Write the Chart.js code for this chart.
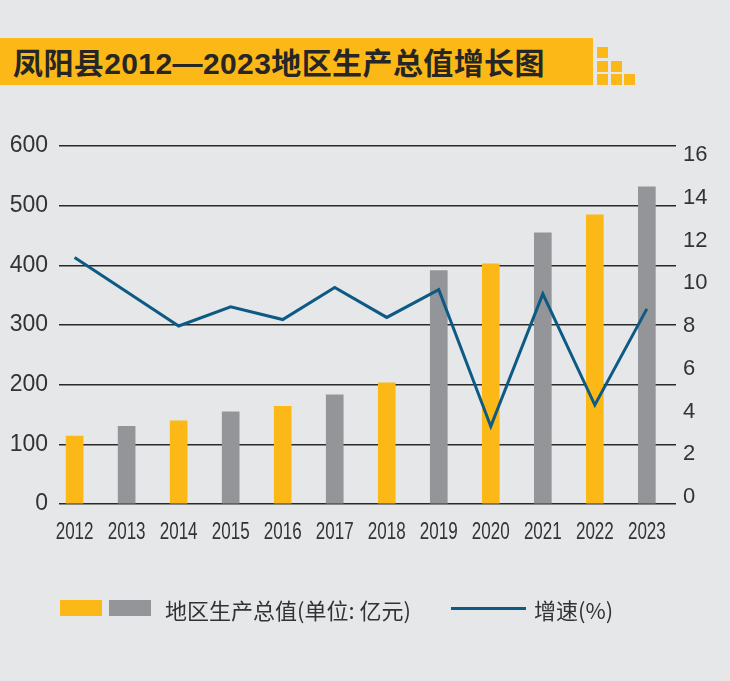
<!DOCTYPE html>
<html>
<head>
<meta charset="utf-8">
<script src="https://cdn.jsdelivr.net/npm/chart.js@4/dist/chart.umd.min.js"></script>
<style>
  html, body { margin: 0; padding: 0; background: #e6e7e9; }
  #wrap { position: relative; width: 730px; height: 681px; overflow: hidden; }
  #chart { position: absolute; left: 0; top: 0; }
  .band { position: absolute; left: 0; top: 38px; width: 593px; height: 47px; background: #fbb817; }
  .band span { position: absolute; left: 13px; top: 1px; line-height: 47px; font: 700 30px "Liberation Sans", "Noto Sans CJK SC", sans-serif; letter-spacing: 0.4px; color: #262626; white-space: nowrap; }
  .sq { position: absolute; width: 11px; height: 11px; background: #fbb817; }
  .legend { position: absolute; top: 597px; left: 0; font: 22px "Noto Sans CJK SC", sans-serif; color: #333; white-space: nowrap; }
  .legend div { position: absolute; }
</style>
</head>
<body>
<div id="wrap">
  <div class="band"><span>凤阳县2012—2023地区生产总值增长图</span></div>
  <div class="sq" style="left:597px;top:47px"></div>
  <div class="sq" style="left:597px;top:61px"></div>
  <div class="sq" style="left:611px;top:61px"></div>
  <div class="sq" style="left:597px;top:74px"></div>
  <div class="sq" style="left:611px;top:74px"></div>
  <div class="sq" style="left:624px;top:74px"></div>
  <canvas id="chart" width="730" height="681"></canvas>
  <div class="legend">
    <div style="left:60px;top:3px;width:42px;height:16px;background:#fbb817"></div>
    <div style="left:109px;top:3px;width:42px;height:16px;background:#939598"></div>
    <div style="left:165px;top:-4px">地区生产总值(单位: 亿元)</div>
    <div style="left:451px;top:10px;width:75px;height:3px;background:#0d5a85"></div>
    <div style="left:534px;top:-4px">增速(%)</div>
  </div>
</div>
<script>
// 数据
const years = ['2012', '2013', '2014', '2015', '2016', '2017', '2018', '2019', '2020', '2021', '2022', '2023'];
const gdp = [114, 130, 139.5, 154.6, 163.5, 183, 203, 391, 402.5, 454.5, 484.6, 531.5];
const growth = [11.2, 9.6, 8.0, 8.9, 8.3, 9.8, 8.4, 9.7, 3.3, 9.5, 4.3, 8.8];
const leftTicks = [0, 100, 200, 300, 400, 500, 600];
const rightTicks = [0, 2, 4, 6, 8, 10, 12, 14, 16];

const YELLOW = '#fbb817';
const GREY = '#939598';
const BLUE = '#0d5a85';

// 年份标签用窄体：横向压缩绘制
const narrowYears = {
  id: 'narrowYears',
  afterDraw(chart) {
    const ctx = chart.ctx;
    const xs = chart.scales.x;
    const y = chart.chartArea.bottom + 29;
    ctx.save();
    ctx.fillStyle = '#333';
    ctx.font = '23px "Liberation Sans", sans-serif';
    ctx.textAlign = 'center';
    ctx.textBaseline = 'middle';
    years.forEach((label, i) => {
      ctx.save();
      ctx.translate(xs.getPixelForValue(i), y);
      ctx.scale(0.74, 1);
      ctx.fillText(label, 0, 0);
      ctx.restore();
    });
    ctx.restore();
  }
};

new Chart(document.getElementById('chart'), {
  type: 'bar',
  data: {
    datasets: [
      {
        type: 'line',
        data: years.map((y, i) => ({ x: i, y: growth[i] })),
        yAxisID: 'y1',
        borderColor: BLUE,
        borderWidth: 3,
        pointRadius: 0,
        tension: 0,
        order: 0
      },
      {
        data: years.map((y, i) => ({ x: i, y: gdp[i] })),
        yAxisID: 'y',
        backgroundColor: years.map((y, i) => i % 2 === 0 ? YELLOW : GREY),
        barThickness: 17,
        order: 1
      }
    ]
  },
  options: {
    responsive: false,
    animation: false,
    layout: { padding: { top: 146, left: 0, right: 0, bottom: 0 } },
    plugins: { legend: { display: false }, tooltip: { enabled: false } },
    scales: {
      x: {
        type: 'linear',
        offset: false,
        min: -0.3,
        max: 11.56,
        grid: { display: false },
        border: { display: false },
        afterBuildTicks: s => { s.ticks = years.map((y, i) => ({ value: i })); },
        afterFit: s => { s.height = 177; },
        ticks: { display: false }
      },
      y: {
        position: 'left',
        min: 0,
        max: 600,
        afterBuildTicks: s => { s.ticks = leftTicks.map(v => ({ value: v })); },
        afterFit: s => { s.width = 59; },
        grid: { color: '#2a2a2a', lineWidth: 1.5, drawTicks: false },
        border: { display: false },
        ticks: {
          padding: 11,
          color: '#333',
          font: { family: '"Liberation Sans", sans-serif', size: 23 }
        }
      },
      y1: {
        position: 'right',
        min: -0.33,
        max: 16.42,
        afterBuildTicks: s => { s.ticks = rightTicks.map(v => ({ value: v })); },
        afterFit: s => { s.width = 54; },
        grid: { display: false, drawTicks: false },
        border: { display: false },
        ticks: {
          padding: 7,
          color: '#333',
          font: { family: '"Liberation Sans", sans-serif', size: 22 }
        }
      }
    }
  },
  plugins: [narrowYears]
});
</script>
</body>
</html>
